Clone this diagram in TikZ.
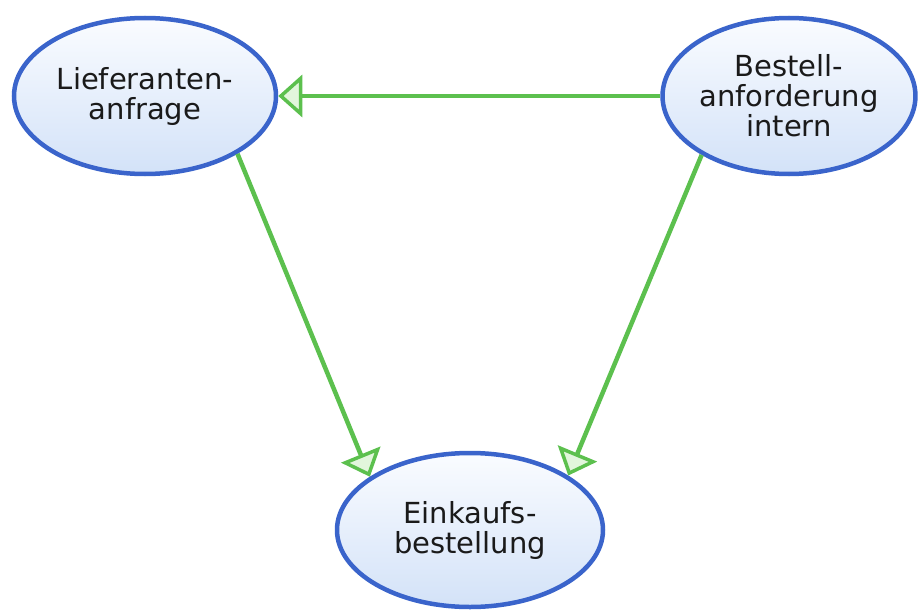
\documentclass[tikz,border=0pt]{standalone}
\usepackage{fontspec}
\setmainfont{DejaVu Sans}
\usetikzlibrary{arrows.meta,shapes.geometric}
\definecolor{edgeblue}{HTML}{3A64CB}
\definecolor{fillbot}{HTML}{D3E2F8}
\definecolor{filltop}{HTML}{FAFCFF}
\definecolor{arrgreen}{HTML}{5CC04E}
\definecolor{headfill}{HTML}{E2F6DC}
\definecolor{txt}{HTML}{1A1A1A}
\tikzset{
  state/.style={ellipse, draw=edgeblue, line width=4.5pt, top color=filltop, bottom color=fillbot,
    inner sep=0pt, align=center, text=txt,
    font=\fontsize{29}{30}\selectfont},
  flow/.style={draw=arrgreen, line width=4.5pt,
    -{Triangle[open, length=24pt, width=42pt, fill=headfill, line width=3.5pt]}}
}
\begin{document}
\begin{tikzpicture}[x=1pt,y=-1pt]
\useasboundingbox (0,0) rectangle (921,610);
\node[state, minimum width=262pt, minimum height=156pt] (lief) at (145,96) {Lieferanten-\\anfrage};
\node[state, minimum width=248pt, minimum height=156pt] (best) at (789,96) {Bestell-\\anforderung\\intern};
\node[state, minimum width=266pt, minimum height=154pt] (eink) at (470,530) {Einkaufs-\\bestellung};
\draw[flow] (best.west) -- (lief.east);
\draw[flow] (lief.-32) -- (eink.152);
\draw[flow] (best.-146) -- (eink.29);
\end{tikzpicture}
\end{document}
